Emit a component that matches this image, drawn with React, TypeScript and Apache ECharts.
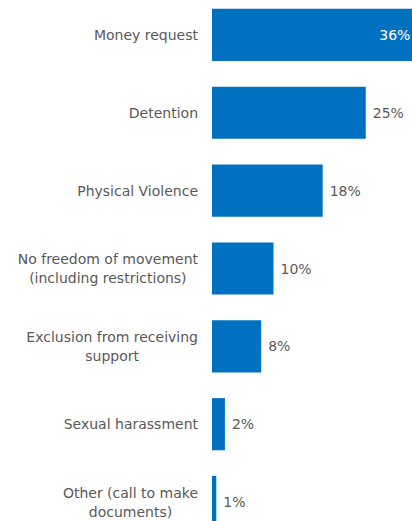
import React, { useEffect, useRef } from "react";
import * as echarts from "echarts";

const categories = [
  "Money request",
  "Detention",
  "Physical Violence",
  "No freedom of movement\n(including restrictions)",
  "Exclusion from receiving\nsupport",
  "Sexual harassment",
  "Other (call to make\ndocuments)",
];
const values = [36, 25, 18, 10, 8, 2.1, 0.7];
const valueLabels = ["36%", "25%", "18%", "10%", "8%", "2%", "1%"];

const BLUE = "#0070C0";
const GREY = "#595959";
const FONT = "DejaVu Sans";

export default function App() {
  const ref = useRef<HTMLDivElement>(null);
  useEffect(() => {
    if (!ref.current) return;
    const chart = echarts.init(ref.current, null, { renderer: "svg" });
    chart.setOption({
      animation: false,
      backgroundColor: "#ffffff",
      grid: { left: 212, right: 0, top: 0, bottom: 0, containLabel: false },
      xAxis: {
        type: "value",
        min: 0,
        max: 40,
        show: false,
      },
      yAxis: {
        type: "category",
        data: categories,
        inverse: true,
        axisLine: { show: false },
        axisTick: { show: false },
        splitLine: { show: false },
        axisLabel: {
          margin: 14,
          align: "right",
          fontFamily: FONT,
          fontSize: 14,
          color: GREY,
          formatter: (v: string) =>
            v
              .split("\n")
              .map((l) => `{c|${l}}`)
              .join("\n"),
          rich: {
            c: {
              align: "center",
              fontFamily: FONT,
              fontSize: 14,
              color: GREY,
              lineHeight: 19,
            },
          },
        },
      },
      series: [
        {
          type: "bar",
          barCategoryGap: "33%",
          data: values.map((v, i) =>
            i === 0
              ? {
                  value: v,
                  label: {
                    position: "insideRight",
                    distance: 23,
                    color: "#ffffff",
                  },
                }
              : { value: v }
          ),
          itemStyle: { color: BLUE },
          label: {
            show: true,
            position: "right",
            distance: 7,
            fontFamily: FONT,
            fontSize: 14,
            color: GREY,
            formatter: (p: any) => valueLabels[p.dataIndex],
          },
        },
      ],
    });
    return () => chart.dispose();
  }, []);
  return (
    <div
      style={{
        position: "fixed",
        left: 0,
        top: 0,
        width: 412,
        height: 521,
        overflow: "hidden",
        background: "#ffffff",
      }}
    >
      <div
        ref={ref}
        style={{ position: "absolute", left: 0, top: -4, width: 458, height: 545 }}
      />
    </div>
  );
}
